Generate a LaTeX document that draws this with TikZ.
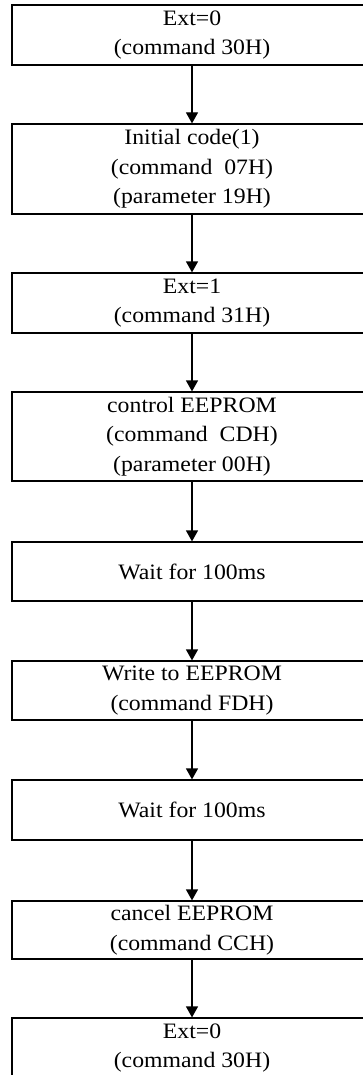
\documentclass[tikz,border=0pt]{standalone}
\usepackage{fontspec}
\setmainfont[FakeStretch=1.08]{Liberation Serif}
\usetikzlibrary{arrows.meta}
\begin{document}
\begin{tikzpicture}[x=1pt,y=-1pt,
  stepbox/.style={draw=black,line width=1.2pt,rectangle,minimum width=360pt,align=center,inner sep=0pt,
    font=\fontsize{22}{29.5}\selectfont},
  arr/.style={line width=1.2pt,-{Triangle[width=12pt,length=11pt]}}]
\clip (0,0) rectangle (363,1075);
\fill[white] (0,0) rectangle (363,1075);
\node[stepbox,minimum height=60pt] (b1) at (192,35) {Ext=0\\(command 30H)};
\node[stepbox,minimum height=90pt] (b2) at (192,169) {Initial code(1)\\(command\ \ 07H)\\(parameter 19H)};
\node[stepbox,minimum height=60pt] (b3) at (192,303) {Ext=1\\(command 31H)};
\node[stepbox,minimum height=89pt] (b4) at (192,436.5) {control EEPROM\\(command\ \ CDH)\\(parameter 00H)};
\node[stepbox,minimum height=59pt] (b5) at (192,571.5) {Wait for 100ms};
\node[stepbox,minimum height=59pt] (b6) at (192,690.5) {Write to EEPROM\\(command FDH)};
\node[stepbox,minimum height=60pt] (b7) at (192,810) {Wait for 100ms};
\node[stepbox,minimum height=58pt] (b8) at (192,930) {cancel EEPROM\\(command CCH)};
\node[stepbox,minimum height=60pt] (b9) at (192,1048) {Ext=0\\(command 30H)};
\draw[arr] (b1.south) -- (b2.north);
\draw[arr] (b2.south) -- (b3.north);
\draw[arr] (b3.south) -- (b4.north);
\draw[arr] (b4.south) -- (b5.north);
\draw[arr] (b5.south) -- (b6.north);
\draw[arr] (b6.south) -- (b7.north);
\draw[arr] (b7.south) -- (b8.north);
\draw[arr] (b8.south) -- (b9.north);
\end{tikzpicture}
\end{document}
